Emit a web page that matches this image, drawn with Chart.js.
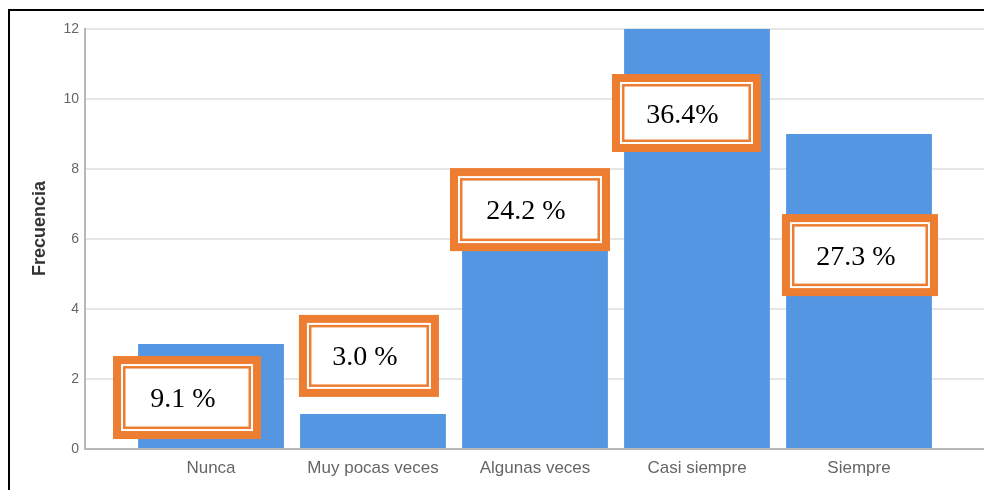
<!DOCTYPE html>
<html>
<head>
<meta charset="utf-8">
<script src="https://cdn.jsdelivr.net/npm/chart.js@4/dist/chart.umd.min.js"></script>
<style>
  html, body { margin: 0; padding: 0; background: #fff; overflow: hidden; }
  #wrap { position: relative; width: 984px; height: 490px; }
  #frame { position: absolute; left: 8px; top: 9px; width: 2000px; height: 2000px;
           border-left: 2px solid #000; border-top: 2px solid #000; pointer-events: none; }
  canvas { position: absolute; left: 0; top: 0; }
</style>
</head>
<body>
<div id="wrap">
  <canvas id="c" width="984" height="490"></canvas>
  <div id="frame"></div>
</div>
<script>
// ---- data ----
const categories = ["Nunca", "Muy pocas veces", "Algunas veces", "Casi siempre", "Siempre"];
const frequencies = [3, 1, 8, 12, 9];
const percentLabels = ["9.1 %", "3.0 %", "24.2 %", "36.4%", "27.3 %"];
const yTicks = [0, 2, 4, 6, 8, 10, 12];
const yTitle = "Frecuencia";

// annotation box anchors (data units) and sizes (px)
const boxAnchorX = [-0.148, 0.975, 1.969, 2.935, 4.006];
const boxAnchorY = [1.47, 2.66, 6.84, 9.6, 5.54];
const boxWidth = [148, 140, 160, 149, 156];
const boxHeight = [83, 82, 83, 78, 82];

const ORANGE = '#ED7D31';

const annotationPlugin = {
  id: 'pctBoxes',
  afterDatasetsDraw(chart) {
    const ctx = chart.ctx;
    const xs = chart.scales.x, ys = chart.scales.y;
    ctx.save();
    percentLabels.forEach((txt, i) => {
      const cx = xs.getPixelForValue(boxAnchorX[i]);
      const cy = ys.getPixelForValue(boxAnchorY[i]);
      const w = boxWidth[i], h = boxHeight[i];
      const l = cx - w / 2, t = cy - h / 2;
      ctx.fillStyle = ORANGE;
      ctx.fillRect(l, t, w, h);
      ctx.fillStyle = '#fff';
      ctx.fillRect(l + 8, t + 8, w - 16, h - 16);
      ctx.strokeStyle = ORANGE;
      ctx.lineWidth = 2.5;
      ctx.strokeRect(l + 11.25, t + 11.25, w - 22.5, h - 22.5);
      ctx.fillStyle = '#000';
      ctx.font = '28px "Liberation Serif", "Times New Roman", serif';
      ctx.textAlign = 'center';
      ctx.textBaseline = 'alphabetic';
      ctx.fillText(txt, cx - 4, cy + 9.5);
    });
    ctx.restore();
  }
};

const yTitlePlugin = {
  id: 'yTitle',
  afterDraw(chart) {
    const ctx = chart.ctx;
    const ys = chart.scales.y;
    const midY = ys.getPixelForValue(6.3);
    ctx.save();
    ctx.translate(40, midY);
    ctx.rotate(-Math.PI / 2);
    ctx.fillStyle = '#333';
    ctx.font = 'bold 18px "Liberation Sans", Arial, sans-serif';
    ctx.textAlign = 'center';
    ctx.textBaseline = 'middle';
    ctx.fillText(yTitle, 0, 0);
    ctx.restore();
  }
};

new Chart(document.getElementById('c'), {
  type: 'bar',
  data: {
    datasets: [{
      data: categories.map((c, i) => ({ x: i, y: frequencies[i] })),
      backgroundColor: '#5596E2',
      borderWidth: 0,
      categoryPercentage: 1.0,
      barPercentage: 0.9
    }]
  },
  options: {
    responsive: false,
    animation: false,
    layout: { padding: { left: 0, right: 0, top: 29, bottom: 0 } },
    plugins: { legend: { display: false }, tooltip: { enabled: false } },
    scales: {
      x: {
        type: 'linear',
        offset: false,
        min: -0.7778,
        max: 4.7716,
        grid: { display: false, drawTicks: false },
        border: { display: true, color: '#b8b8b8', width: 2 },
        afterFit: s => { s.height = 41; },
        afterBuildTicks: s => { s.ticks = categories.map((c, i) => ({ value: i })); },
        ticks: {
          autoSkip: false,
          maxRotation: 0,
          padding: 9,
          color: '#666',
          font: { family: '"Liberation Sans", Arial, sans-serif', size: 17 },
          callback: v => categories[v] ?? ''
        }
      },
      y: {
        min: 0,
        max: 12,
        afterFit: s => { s.width = 85; },
        afterBuildTicks: s => { s.ticks = yTicks.map(v => ({ value: v })); },
        grid: { color: '#e6e6e6', lineWidth: 2, drawTicks: false },
        border: { display: true, color: '#b8b8b8', width: 2 },
        title: { display: false },
        ticks: {
          padding: 6,
          color: '#666',
          font: { family: '"Liberation Sans", Arial, sans-serif', size: 14 }
        }
      }
    }
  },
  plugins: [annotationPlugin, yTitlePlugin]
});
</script>
</body>
</html>
